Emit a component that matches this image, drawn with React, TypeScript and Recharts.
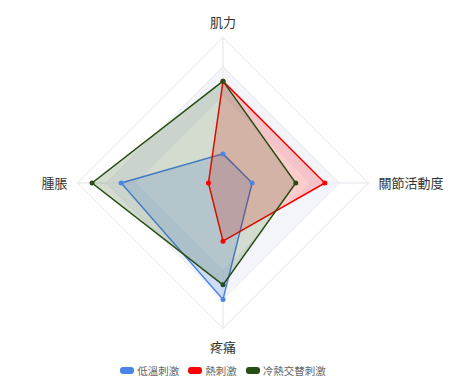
import React from "react";
import {
  RadarChart,
  Radar,
  PolarGrid,
  PolarAngleAxis,
  PolarRadiusAxis,
  Legend,
} from "recharts";

const categories = ["肌力", "關節活動度", "疼痛", "腫脹"];
const lowTemp = [2, 2, 8, 7];
const heat = [7, 7, 4, 1];
const contrast = [7, 5, 7, 9];
const bandOuter = [8, 8, 8, 8];
const bandInner = [6, 6, 6, 6];

const SERIES = [
  { key: "low", name: "低溫刺激", color: "#4a86e8", fillOpacity: 0.22 },
  { key: "heat", name: "熱刺激", color: "#ff0000", fillOpacity: 0.2 },
  { key: "contrast", name: "冷熱交替刺激", color: "#274e13", fillOpacity: 0.2 },
];

const data = categories.map((c, i) => ({
  subject: c,
  low: lowTemp[i],
  heat: heat[i],
  contrast: contrast[i],
  bandOuter: bandOuter[i],
  bandInner: bandInner[i],
}));

const FONT = '"Noto Sans CJK TC", "Noto Sans", sans-serif';

function AngleTick(props: any) {
  const { x, y, cx, cy, payload } = props;
  const dx = x - cx;
  const dy = y - cy;
  let anchor: "start" | "middle" | "end" = "middle";
  let tx = x;
  let ty = y;
  if (Math.abs(dx) > Math.abs(dy)) {
    anchor = dx > 0 ? "start" : "end";
    tx = x + (dx > 0 ? 2 : -2);
    ty = y + 5;
  } else if (dy < 0) {
    ty = y - 3;
  } else {
    ty = y + 15;
  }
  return (
    <text
      x={tx}
      y={ty}
      textAnchor={anchor}
      fill="#333"
      fontSize={13}
      fontFamily={FONT}
    >
      {payload.value}
    </text>
  );
}

function LegendContent() {
  return (
    <div
      style={{
        display: "flex",
        justifyContent: "center",
        gap: 9,
        fontFamily: FONT,
        fontSize: 10.5,
        color: "#666",
      }}
    >
      {SERIES.map((s) => (
        <div key={s.key} style={{ display: "flex", alignItems: "center" }}>
          <span
            style={{
              display: "inline-block",
              width: 14,
              height: 7,
              borderRadius: 3,
              background: s.color,
              marginRight: 3,
            }}
          />
          <span>{s.name}</span>
        </div>
      ))}
    </div>
  );
}

export default function App() {
  return (
    <div
      style={{
        position: "absolute",
        left: 0,
        top: 0,
        width: 471,
        height: 384,
        background: "#fff",
      }}
    >
      <RadarChart
        width={471}
        height={384}
        data={data}
        cx={223}
        cy={183}
        outerRadius={145.5}
        margin={{ top: 0, right: 0, bottom: 0, left: 0 }}
      >
        <PolarRadiusAxis
          domain={[0, 10]}
          tickCount={6}
          tick={false}
          axisLine={false}
        />
        <Radar
          dataKey="bandOuter"
          stroke="none"
          fill="#eef1fa"
          fillOpacity={0.7}
          dot={false}
          legendType="none"
          isAnimationActive={false}
        />
        <Radar
          dataKey="bandInner"
          stroke="none"
          fill="#ffffff"
          fillOpacity={1}
          dot={false}
          legendType="none"
          isAnimationActive={false}
        />
        <PolarGrid gridType="polygon" stroke="#e3e3e8" />
        <PolarAngleAxis
          dataKey="subject"
          tick={<AngleTick />}
          tickLine={false}
          axisLine={false}
        />
        {SERIES.map((s) => (
          <Radar
            key={s.key}
            name={s.name}
            dataKey={s.key}
            stroke={s.color}
            strokeWidth={1.5}
            fill={s.color}
            fillOpacity={s.fillOpacity}
            dot={{ r: 2.5, fill: s.color, stroke: s.color, strokeWidth: 0, fillOpacity: 1 }}
            isAnimationActive={false}
          />
        ))}
        <Legend
          verticalAlign="bottom"
          content={<LegendContent />}
          wrapperStyle={{ left: 0, width: 446, bottom: 6 }}
        />
      </RadarChart>
    </div>
  );
}
